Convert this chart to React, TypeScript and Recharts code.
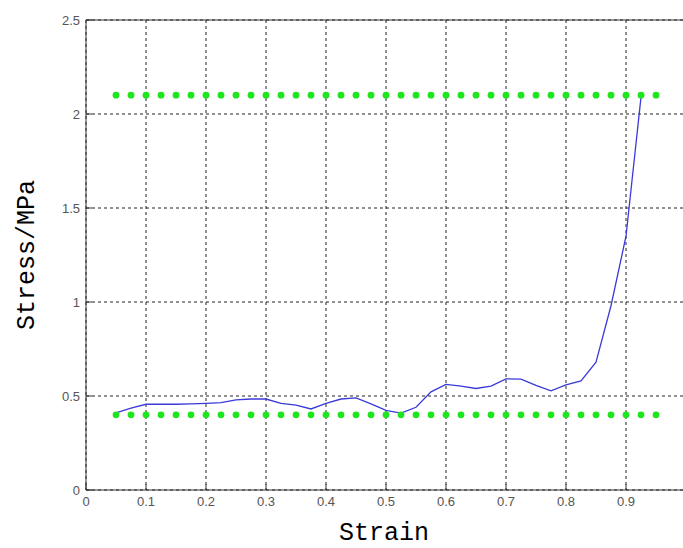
import * as React from "react";
import {
  ComposedChart,
  Line,
  Scatter,
  XAxis,
  YAxis,
  CartesianGrid,
  ReferenceLine,
  Label,
} from "recharts";

// measured curve
const strain = [
  0.05, 0.075, 0.1, 0.125, 0.15, 0.175, 0.2, 0.225, 0.25, 0.275, 0.3, 0.325,
  0.35, 0.375, 0.4, 0.425, 0.45, 0.475, 0.5, 0.525, 0.55, 0.575, 0.6, 0.625,
  0.65, 0.675, 0.7, 0.725, 0.75, 0.775, 0.8, 0.825, 0.85, 0.875, 0.9, 0.925,
];
const stress = [
  0.41, 0.435, 0.456, 0.456, 0.456, 0.458, 0.461, 0.465, 0.479, 0.484, 0.484,
  0.461, 0.452, 0.431, 0.461, 0.484, 0.49, 0.458, 0.424, 0.409, 0.44, 0.522,
  0.562, 0.552, 0.54, 0.553, 0.591, 0.59, 0.557, 0.527, 0.559, 0.58, 0.68,
  0.98, 1.35, 2.09,
];

// green dotted bounds
const boundStrain = [
  0.05, 0.075, 0.1, 0.125, 0.15, 0.175, 0.2, 0.225, 0.25, 0.275, 0.3, 0.325,
  0.35, 0.375, 0.4, 0.425, 0.45, 0.475, 0.5, 0.525, 0.55, 0.575, 0.6, 0.625,
  0.65, 0.675, 0.7, 0.725, 0.75, 0.775, 0.8, 0.825, 0.85, 0.875, 0.9, 0.925,
  0.95,
];
const upperLevel = 2.1;
const lowerLevel = 0.4;

const xTicks = [0, 0.1, 0.2, 0.3, 0.4, 0.5, 0.6, 0.7, 0.8, 0.9];
const yTicks = [0, 0.5, 1, 1.5, 2, 2.5];

const curve = strain.map((x, i) => ({ x, y: stress[i] }));
const upper = boundStrain.map((x) => ({ x, y: upperLevel }));
const lower = boundStrain.map((x) => ({ x, y: lowerLevel }));

const tickStyle = {
  fontFamily: "Liberation Sans, Arial, sans-serif",
  fontSize: 13,
  fill: "#555",
};
const titleFont = "Liberation Mono, monospace";

const GreenDot = (p: any) => (
  <circle cx={p.cx} cy={p.cy} r={3.4} fill="#1ee61e" />
);

export default function App() {
  return (
    <div
      style={{
        position: "absolute",
        left: 0,
        top: 0,
        width: 683,
        height: 548,
        overflow: "hidden",
        background: "#fff",
      }}
    >
      <ComposedChart
        width={700}
        height={548}
        margin={{ top: 20, right: 14, bottom: 0, left: 0 }}
      >
        <CartesianGrid stroke="#222" strokeDasharray="3 3" />
        <XAxis
          type="number"
          dataKey="x"
          domain={[0, 1]}
          ticks={xTicks}
          height={58}
          stroke="#333"
          tick={tickStyle}
          tickSize={-6}
          tickMargin={13}
          allowDataOverflow
        >
          <Label
            content={(p: any) => (
              <text
                x={p.viewBox.x + p.viewBox.width / 2 - 2}
                y={540}
                textAnchor="middle"
                fontFamily={titleFont}
                fontSize={25}
                fill="#000"
              >
                Strain
              </text>
            )}
          />
        </XAxis>
        <YAxis
          type="number"
          dataKey="y"
          domain={[0, 2.5]}
          ticks={yTicks}
          width={86}
          stroke="#333"
          tick={tickStyle}
          tickSize={-6}
          tickMargin={12}
        >
          <Label
            content={() => (
              <text
                x={0}
                y={0}
                transform="translate(34 255) rotate(-90)"
                textAnchor="middle"
                fontFamily={titleFont}
                fontSize={25}
                fill="#000"
              >
                Stress/MPa
              </text>
            )}
          />
        </YAxis>
        <ReferenceLine y={2.5} stroke="#333" />
        <Scatter
          data={upper}
          shape={<GreenDot />}
          isAnimationActive={false}
        />
        <Scatter
          data={lower}
          shape={<GreenDot />}
          isAnimationActive={false}
        />
        <Line
          data={curve}
          dataKey="y"
          type="linear"
          stroke="#3a3ad8"
          strokeWidth={1.3}
          dot={false}
          activeDot={false}
          isAnimationActive={false}
        />
      </ComposedChart>
    </div>
  );
}
